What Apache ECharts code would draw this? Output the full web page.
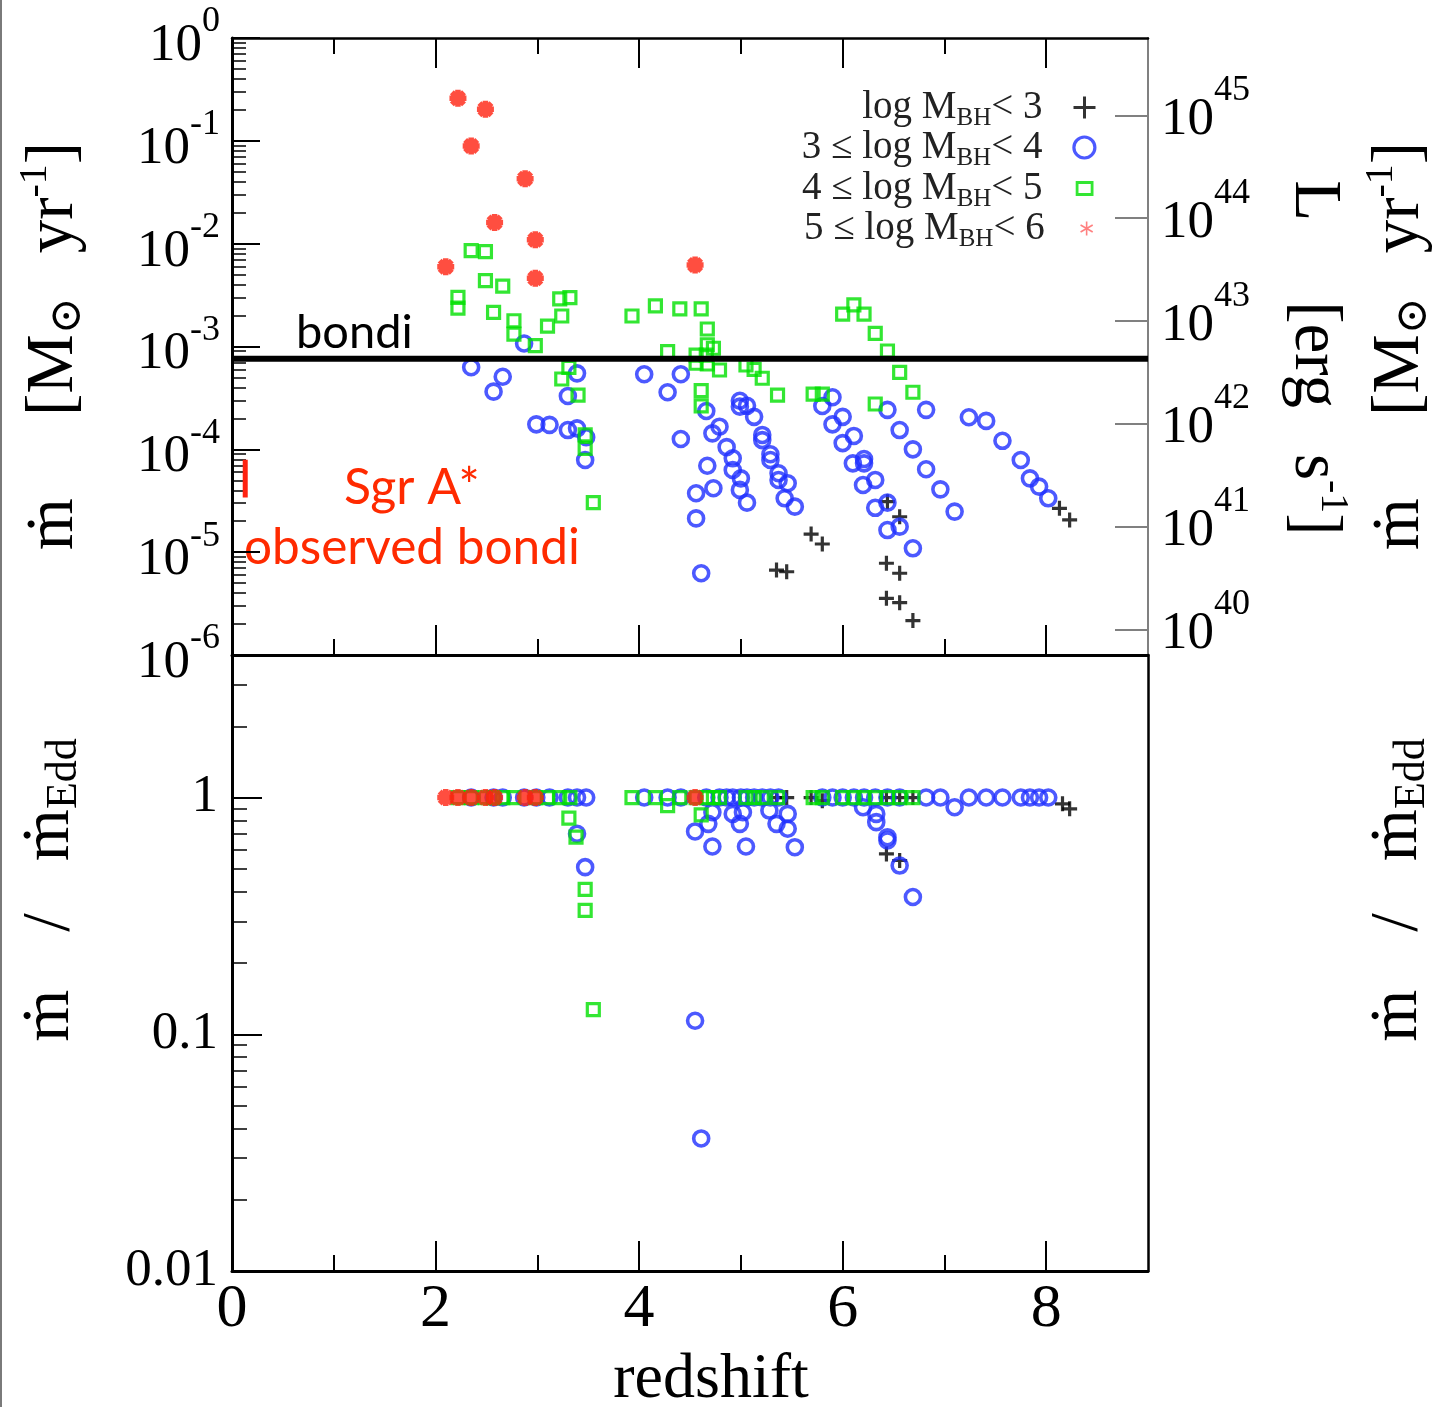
<!DOCTYPE html>
<html><head><meta charset="utf-8">
<script src="https://cdn.jsdelivr.net/npm/echarts@6/dist/echarts.min.js"></script>
<style>html,body{margin:0;padding:0;background:#fff}#c{width:1442px;height:1407px}</style>
</head><body><div id="c"></div>
<script>
// ---------------- data ----------------
const seriesNames = ['log M_BH < 3', '3 <= log M_BH < 4', '4 <= log M_BH < 5', '5 <= log M_BH < 6'];

// top panel: [redshift, accretion rate in Msun/yr]
const mdotBinA = [ // log M_BH < 3
  [5.35, 6.7e-6], [5.45, 6.45e-6], [5.69, 1.50e-5], [5.80, 1.20e-5], [6.43, 7.8e-6], [6.44, 3.1e-5],
  [6.43, 3.56e-6], [6.56, 2.21e-5], [6.56, 6.24e-6], [6.56, 3.23e-6], [6.69, 2.16e-6], [8.13, 2.67e-5], [8.23, 2.06e-5]
];
const mdotBinB = [ // 3 <= log M_BH < 4
  [2.87, 1.07e-3], [2.35, 6.28e-4], [2.66, 5.08e-4], [2.57, 3.64e-4], [3.39, 5.48e-4], [3.30, 3.30e-4],
  [2.99, 1.75e-4], [3.12, 1.73e-4], [3.30, 1.54e-4], [3.39, 1.60e-4], [3.48, 1.31e-4], [3.47, 7.87e-5],
  [4.05, 5.37e-4], [4.41, 5.37e-4], [4.28, 3.59e-4], [4.66, 2.36e-4], [4.79, 1.66e-4], [4.72, 1.43e-4],
  [4.41, 1.26e-4], [4.86, 1.05e-4], [4.92, 8.18e-5], [4.67, 6.93e-5], [4.92, 6.29e-5], [5.00, 5.22e-5],
  [4.99, 4.03e-5], [5.06, 3.03e-5], [4.56, 3.74e-5], [4.73, 4.18e-5], [4.56, 2.13e-5], [4.61, 6.24e-6],
  [4.99, 2.97e-4], [4.99, 2.60e-4], [5.06, 2.65e-4], [5.13, 2.07e-4], [5.21, 1.38e-4], [5.21, 1.23e-4],
  [5.29, 8.95e-5], [5.29, 7.87e-5], [5.37, 5.85e-5], [5.37, 5.04e-5], [5.46, 4.68e-5], [5.43, 3.34e-5], [5.53, 2.77e-5],
  [5.90, 3.21e-4], [5.80, 2.64e-4], [6.00, 2.07e-4], [5.90, 1.75e-4], [6.11, 1.35e-4], [6.00, 1.15e-4],
  [6.21, 8.05e-5], [6.21, 7.31e-5], [6.10, 7.31e-5], [6.32, 5.04e-5], [6.20, 4.50e-5], [6.44, 3.03e-5],
  [6.32, 2.70e-5], [6.56, 1.77e-5], [6.44, 1.64e-5], [6.69, 1.09e-5],
  [6.44, 2.42e-4], [6.82, 2.42e-4], [6.56, 1.54e-4], [6.69, 1.00e-4], [6.82, 6.40e-5], [6.96, 4.08e-5], [7.10, 2.48e-5],
  [7.24, 2.05e-4], [7.41, 1.89e-4], [7.57, 1.21e-4], [7.75, 7.87e-5], [7.84, 5.22e-5], [7.93, 4.34e-5], [8.02, 3.34e-5]
];
const mdotBinC = [ // 4 <= log M_BH < 5
  [2.35, 8.55e-3], [2.49, 8.36e-3], [2.49, 4.37e-3], [2.66, 3.87e-3], [2.22, 3.01e-3], [2.22, 2.36e-3],
  [2.57, 2.15e-3], [2.77, 1.78e-3], [2.77, 1.32e-3], [3.10, 1.58e-3], [3.24, 1.98e-3], [3.22, 2.90e-3],
  [3.32, 2.99e-3], [2.98, 1.02e-3], [3.93, 1.98e-3],
  [3.31, 6.28e-4], [3.24, 4.83e-4], [3.40, 3.37e-4], [3.47, 1.38e-4], [3.47, 1.02e-4], [3.55, 3.03e-5],
  [4.16, 2.48e-3], [4.40, 2.32e-3], [4.61, 2.32e-3], [4.67, 1.48e-3], [4.28, 8.91e-4], [4.67, 1.04e-3],
  [4.73, 9.62e-4], [4.56, 8.26e-4], [4.66, 8.26e-4], [4.56, 6.87e-4], [4.67, 6.76e-4], [4.79, 5.91e-4],
  [5.05, 6.61e-4], [5.13, 6.00e-4], [5.21, 4.91e-4], [5.36, 3.37e-4], [5.71, 3.45e-4], [5.80, 3.45e-4],
  [4.61, 3.72e-4], [4.61, 2.65e-4],
  [6.00, 2.06e-3], [6.11, 2.54e-3], [6.21, 2.06e-3], [6.32, 1.34e-3], [6.44, 9.04e-4], [6.56, 5.61e-4],
  [6.69, 3.59e-4], [6.32, 2.76e-4]
];
const mdotBinD = [ // 5 <= log M_BH < 6
  [2.22, 0.259], [2.49, 0.203], [2.35, 0.0891], [2.88, 0.0429], [2.58, 0.0161], [2.98, 0.0109],
  [2.10, 5.97e-3], [2.98, 4.60e-3], [4.55, 6.21e-3]
];

// bottom panel: [redshift, mdot / mdot_Edd]
const eddBinA = [
  [5.35, 1], [5.45, 1], [5.69, 1], [5.80, 0.97], [6.43, 1], [6.56, 1], [6.69, 1],
  [6.43, 0.578], [6.56, 0.542], [8.16, 0.941], [8.23, 0.896]
];
const eddBinB = [
  [2.35, 1], [2.57, 1], [2.66, 1], [2.87, 1], [2.99, 1], [3.12, 1], [3.30, 1], [3.39, 1], [3.48, 1],
  [4.05, 1], [4.28, 1], [4.41, 1], [4.66, 1], [4.79, 1], [4.86, 1], [4.92, 1], [5.00, 1], [5.06, 1],
  [5.13, 1], [5.21, 1], [5.29, 1], [5.37, 1], [5.80, 1], [5.90, 1], [6.00, 1], [6.11, 1], [6.21, 1],
  [6.32, 1], [6.44, 1], [6.56, 1], [6.82, 1], [6.96, 1], [7.24, 1], [7.41, 1], [7.57, 1], [7.75, 1],
  [7.84, 1], [7.93, 1], [8.02, 1],
  [3.39, 0.703], [3.47, 0.508], [4.55, 0.114], [4.61, 0.0363], [4.68, 0.774], [4.55, 0.719],
  [4.72, 0.621], [4.72, 0.867], [5.05, 0.621], [5.53, 0.617], [4.99, 0.774], [4.92, 0.853],
  [5.02, 0.867], [5.35, 0.774], [5.46, 0.853], [5.46, 0.738], [5.28, 0.881], [6.20, 0.910],
  [6.33, 0.853], [6.33, 0.787], [6.44, 0.680], [6.44, 0.659], [6.56, 0.516], [6.69, 0.380], [7.10, 0.910]
];
const eddBinC = [
  [2.22, 1], [2.35, 1], [2.49, 1], [2.57, 1], [2.66, 1], [2.77, 1], [2.98, 1], [3.10, 1], [3.22, 1],
  [3.32, 1], [3.93, 1], [4.16, 1], [4.40, 1], [4.56, 1], [4.67, 1], [4.73, 1], [4.79, 1], [5.05, 1],
  [5.13, 1], [5.21, 1], [5.36, 1], [5.71, 1], [5.80, 1], [6.00, 1], [6.11, 1], [6.21, 1], [6.32, 1],
  [6.44, 1], [6.56, 1], [6.69, 1],
  [3.31, 0.818], [3.38, 0.68], [3.47, 0.409], [3.47, 0.334], [3.55, 0.127], [4.28, 0.925], [4.61, 0.845]
];
const eddBinD = [
  [2.10, 1], [2.22, 1], [2.35, 1], [2.49, 1], [2.58, 1], [2.88, 1], [2.98, 1], [4.55, 1]
];

const bondiRate = 7.6e-4;                      // horizontal "bondi" line, Msun/yr
const sgrAObserved = [[0.13, 7.9e-5], [0.13, 3.4e-5]]; // Sgr A* observed Bondi range

// axis ticks
const zMajorTicks = [2, 4, 6, 8];
const zMinorTicks = [1, 3, 5, 7];
const zTickLabels = [0, 2, 4, 6, 8];
const mdotTickExps = [-6, -5, -4, -3, -2, -1, 0];
const lumTickExps = [40, 41, 42, 43, 44, 45];
const eddTicks = [0.01, 0.1, 1];
const eddTickLabels = ['0.01', '0.1', '1'];
const L_PER_MDOT = 5.66e45; // erg/s per (Msun/yr), 10% radiative efficiency

// ---------------- chart ----------------
const SERIF = "'Liberation Serif', 'DejaVu Serif', 'Times New Roman', serif";
const SANS = "Lato, 'Noto Sans', sans-serif";
const BLUE = '#1f30ff', GREEN = '#00e000', RED = '#ff2210', BLACK = '#000';
const PLUS = 'path://M0,7 L14,7 M7,0 L7,14';
const STAR8 = 'path://M8,0 L8,16 M0,8 L16,8 M2.3,2.3 L13.7,13.7 M13.7,2.3 L2.3,13.7';
const STAR6 = 'path://M8,0 L8,16 M1.07,4 L14.93,12 M1.07,12 L14.93,4';

const lg = v => Math.log10(v);
const toLog = arr => arr.map(p => [p[0], lg(p[1])]);
const minorLog = (n0, n1, maxV) => {
  const out = [];
  for (let n = n0; n <= n1; n++) for (let k = 2; k <= 9; k++) {
    const v = k * Math.pow(10, n);
    if (v < maxV) out.push(lg(v));
  }
  return out;
};

const chart = echarts.init(document.getElementById('c'), null, {renderer: 'canvas'});

const tickStyle = {color: '#000', width: 2};
function xAx(grid, pos, ticks, len, line, lineW, labels) {
  return {
    gridIndex: grid, type: 'value', position: pos, min: 0, max: 9,
    axisLine: {show: line, onZero: false, lineStyle: {color: '#000', width: lineW}},
    axisTick: {show: true, inside: true, length: len, customValues: ticks, lineStyle: tickStyle},
    axisLabel: labels ? {show: true, customValues: labels, margin: 8, color: '#000',
      fontFamily: SERIF, fontSize: 62, formatter: v => String(Math.round(v))} : {show: false},
    splitLine: {show: false}, minorTick: {show: false}
  };
}

const supRich = (bPadTop, sPadBot) => ({
  b: {fontFamily: SERIF, fontSize: 53, color: '#000', padding: [bPadTop, 0, 0, 0]},
  s: {fontFamily: SERIF, fontSize: 36, color: '#000', padding: [0, 0, sPadBot, 0]}
});

const lumMin = lg(L_PER_MDOT) - 6, lumMax = lg(L_PER_MDOT);

const option = {
  animation: false,
  backgroundColor: '#fff',
  grid: [
    {left: 232, top: 38, width: 916, height: 617, outerBoundsMode: 'none', containLabel: false},
    {left: 232, top: 655, width: 916, height: 616, outerBoundsMode: 'none', containLabel: false}
  ],
  xAxis: [
    xAx(0, 'bottom', zMajorTicks, 30, true, 3),
    xAx(0, 'bottom', zMinorTicks, 16, false, 0),
    xAx(0, 'top', zMajorTicks, 30, true, 2.5),
    xAx(0, 'top', zMinorTicks, 16, false, 0),
    xAx(1, 'bottom', zMajorTicks, 30, true, 3, zTickLabels),
    xAx(1, 'bottom', zMinorTicks, 16, false, 0)
  ],
  yAxis: [
    { gridIndex: 0, type: 'value', position: 'left', min: -6, max: 0,
      axisLine: {show: true, onZero: false, lineStyle: {color: '#000', width: 3}},
      axisTick: {show: true, inside: true, length: 28, customValues: mdotTickExps, lineStyle: tickStyle},
      axisLabel: {show: true, customValues: mdotTickExps, margin: 12,
        formatter: v => '{b|10}{s|' + Math.round(v) + '}', rich: supRich(16, 32)},
      splitLine: {show: false} },
    { gridIndex: 0, type: 'value', position: 'left', min: -6, max: 0,
      axisLine: {show: false, onZero: false},
      axisTick: {show: true, inside: true, length: 14, customValues: minorLog(-6, -1, 1), lineStyle: {color: '#000', width: 1.5}},
      axisLabel: {show: false}, splitLine: {show: false} },
    { gridIndex: 0, type: 'value', position: 'right', min: lumMin, max: lumMax,
      axisLine: {show: true, onZero: false, lineStyle: {color: '#808080', width: 2}},
      axisTick: {show: true, inside: true, length: 33, customValues: lumTickExps, lineStyle: {color: '#808080', width: 2}},
      axisLabel: {show: true, customValues: lumTickExps, margin: 13,
        formatter: v => '{b|10}{s|' + Math.round(v) + '}', rich: supRich(9, 50)},
      splitLine: {show: false} },
    { gridIndex: 1, type: 'value', position: 'left', min: lg(eddTicks[0]), max: lg(4),
      axisLine: {show: true, onZero: false, lineStyle: {color: '#000', width: 3}},
      axisTick: {show: true, inside: true, length: 30, customValues: eddTicks.map(lg), lineStyle: tickStyle},
      axisLabel: {show: true, customValues: eddTicks.map(lg), margin: 14, color: '#000',
        fontFamily: SERIF, fontSize: 53,
        formatter: v => { let i = 0; eddTicks.forEach((t, j) => { if (Math.abs(lg(t) - v) < 1e-6) i = j; }); return eddTickLabels[i]; }},
      splitLine: {show: false} },
    { gridIndex: 1, type: 'value', position: 'left', min: lg(eddTicks[0]), max: lg(4),
      axisLine: {show: false, onZero: false},
      axisTick: {show: true, inside: true, length: 15, customValues: minorLog(-2, 0, 3.99), lineStyle: {color: '#000', width: 1.5}},
      axisLabel: {show: false}, splitLine: {show: false} },
    { gridIndex: 1, type: 'value', position: 'right', min: lg(eddTicks[0]), max: lg(4),
      axisLine: {show: true, onZero: false, lineStyle: {color: '#000', width: 2.5}},
      axisTick: {show: false}, axisLabel: {show: false}, splitLine: {show: false} }
  ],
  legend: [],
  series: [],
  graphic: []
};

// legends (one per row so each icon keeps its own size)
const legRows = [
  {name: seriesNames[0], pre: '', post: '< 3', cy: 105, w: 22, h: 22, icon: PLUS, style: {borderColor: '#000', borderWidth: 3, color: 'rgba(0,0,0,0)'}},
  {name: seriesNames[1], pre: '3 \u2264 ', post: '< 4', cy: 145, w: 21, h: 21, icon: 'circle', style: {borderColor: BLUE, borderWidth: 3.2, color: 'rgba(0,0,0,0)'}},
  {name: seriesNames[2], pre: '4 \u2264 ', post: '< 5', cy: 186, w: 15, h: 12, icon: 'rect', style: {borderColor: GREEN, borderWidth: 2.8, color: 'rgba(0,0,0,0)'}},
  {name: seriesNames[3], pre: '5 \u2264 ', post: '< 6', cy: 226, w: 15, h: 14, icon: STAR6, style: {borderColor: '#ff6060', borderWidth: 1.6, color: 'rgba(0,0,0,0)'}}
];
const ICON_CX = 1086, TEXT_RIGHT = 1044;
legRows.forEach(r => {
  const iconLeft = ICON_CX - r.w / 2;
  const pad = iconLeft - 5 - TEXT_RIGHT;
  option.legend.push({
    data: [{name: r.name, icon: r.icon, itemStyle: r.style}],
    orient: 'vertical', align: 'right', right: 1442 - (ICON_CX + r.w / 2), top: r.cy - 17,
    padding: 0, itemWidth: r.w, itemHeight: r.h, selectedMode: false,
    formatter: () => (r.pre ? '{t|' + r.pre + '}' : '') + '{t|log M}{sub|BH}{e|' + r.post + '}',
    textStyle: {
      rich: {
        t: {fontFamily: SERIF, fontSize: 39, color: '#222'},
        sub: {fontFamily: SERIF, fontSize: 25, color: '#222', padding: [22, 0, 0, 0]},
        e: {fontFamily: SERIF, fontSize: 39, color: '#222', padding: [0, pad, 0, 0]}
      }
    }
  });
});

const clear = 'rgba(0,0,0,0)';
const sty = {
  a: {symbol: PLUS, symbolSize: 15, itemStyle: {color: clear, borderColor: BLACK, borderWidth: 3.2}},
  b: {symbol: 'circle', symbolSize: 15, itemStyle: {color: clear, borderColor: BLUE, borderWidth: 3.6}},
  c: {symbol: 'rect', symbolSize: 12, itemStyle: {color: clear, borderColor: GREEN, borderWidth: 3.2}},
  d: {symbol: STAR8, symbolSize: 17, itemStyle: {color: clear, borderColor: RED, borderWidth: 5.5}}
};
function sc(name, s, data, xi, yi, z) {
  return Object.assign({name, type: 'scatter', xAxisIndex: xi, yAxisIndex: yi, data, z, silent: true}, s);
}
option.series.push(
  sc(seriesNames[0], sty.a, toLog(mdotBinA), 0, 0, 2),
  sc(seriesNames[1], sty.b, toLog(mdotBinB), 0, 0, 3),
  sc(seriesNames[2], sty.c, toLog(mdotBinC), 0, 0, 4),
  sc(seriesNames[3], sty.d, toLog(mdotBinD), 0, 0, 5),
  sc(seriesNames[0], sty.a, toLog(eddBinA), 4, 3, 2),
  sc(seriesNames[1], sty.b, toLog(eddBinB), 4, 3, 3),
  sc(seriesNames[2], sty.c, toLog(eddBinC), 4, 3, 4),
  sc(seriesNames[3], sty.d, toLog(eddBinD), 4, 3, 5),
  {name: 'bondi', type: 'line', xAxisIndex: 0, yAxisIndex: 0, z: 6, symbol: 'none', silent: true,
   data: [[0, lg(bondiRate)], [9, lg(bondiRate)]], lineStyle: {color: '#000', width: 6}},
  {name: 'Sgr A*', type: 'line', xAxisIndex: 0, yAxisIndex: 0, z: 6, symbol: 'none', silent: true,
   data: toLog(sgrAObserved), lineStyle: {color: RED, width: 5}}
);

// axis titles and annotations
const tRich = (fs) => ({
  t: {fontFamily: SERIF, fontSize: fs, color: '#000'},
  sub: {fontFamily: SERIF, fontSize: Math.round(fs * 0.66), color: '#000', padding: [Math.round(fs * 0.42), 0, 0, 0]},
  sup: {fontFamily: SERIF, fontSize: Math.round(fs * 0.6), color: '#000', padding: [0, 0, Math.round(fs * 0.55), 0]},
  g1: {fontFamily: SERIF, fontSize: fs, width: 82},
  g2: {fontFamily: SERIF, fontSize: fs, width: 44},
  g3: {fontFamily: SERIF, fontSize: fs, width: 58},
  g4: {fontFamily: SERIF, fontSize: fs, width: 52},
  g5: {fontFamily: SERIF, fontSize: fs, width: 80},
  g6: {fontFamily: SERIF, fontSize: fs, width: 46}
});
const mdotTitle = '{t|\u1e41}{g1| }{t|[M}{sub|\u2299}{g2| }{t|yr}{sup|-1}{t|]}';
const eddTitle = '{t|\u1e41}{g3| }{t|/}{g4| }{t|\u1e41}{sub|Edd}';
const lumTitle = '{t|L}{g5| }{t|[erg}{g6| }{t|s}{sup|-1}{t|]}';
const TFS = 67;
function title(text, x, y, rot) {
  return {type: 'text', x, y, rotation: rot, silent: true,
    style: {text, align: 'center', verticalAlign: 'middle', rich: tRich(TFS), fontFamily: SERIF, fontSize: TFS, fill: '#000'}};
}
option.graphic.push(
  {type: 'rect', shape: {x: 0, y: 0, width: 2, height: 1407}, style: {fill: '#7a7a7a'}, silent: true},
  title(mdotTitle, 54, 346, Math.PI / 2),
  title(eddTitle, 50, 890, Math.PI / 2),
  title(mdotTitle, 1400, 346, Math.PI / 2),
  title(eddTitle, 1398, 890, Math.PI / 2),
  title(lumTitle, 1314, 358, -Math.PI / 2),
  {type: 'text', x: 711, y: 1380, silent: true,
   style: {text: 'redshift', align: 'center', verticalAlign: 'middle', fontFamily: SERIF, fontSize: 64, fill: '#000'}},
  {type: 'text', x: 296, y: 333, silent: true,
   style: {text: 'bondi', align: 'left', verticalAlign: 'middle', fontFamily: SANS, fontSize: 47, fill: '#000'}},
  {type: 'text', x: 344, y: 488, silent: true,
   style: {text: 'Sgr A*', align: 'left', verticalAlign: 'middle', fontFamily: SANS, fontSize: 50, fill: '#ff2a00'}},
  {type: 'text', x: 244, y: 548, silent: true,
   style: {text: 'observed bondi', align: 'left', verticalAlign: 'middle', fontFamily: SANS, fontSize: 49.5, fill: '#ff2a00'}}
);

chart.setOption(option);
</script></body></html>
